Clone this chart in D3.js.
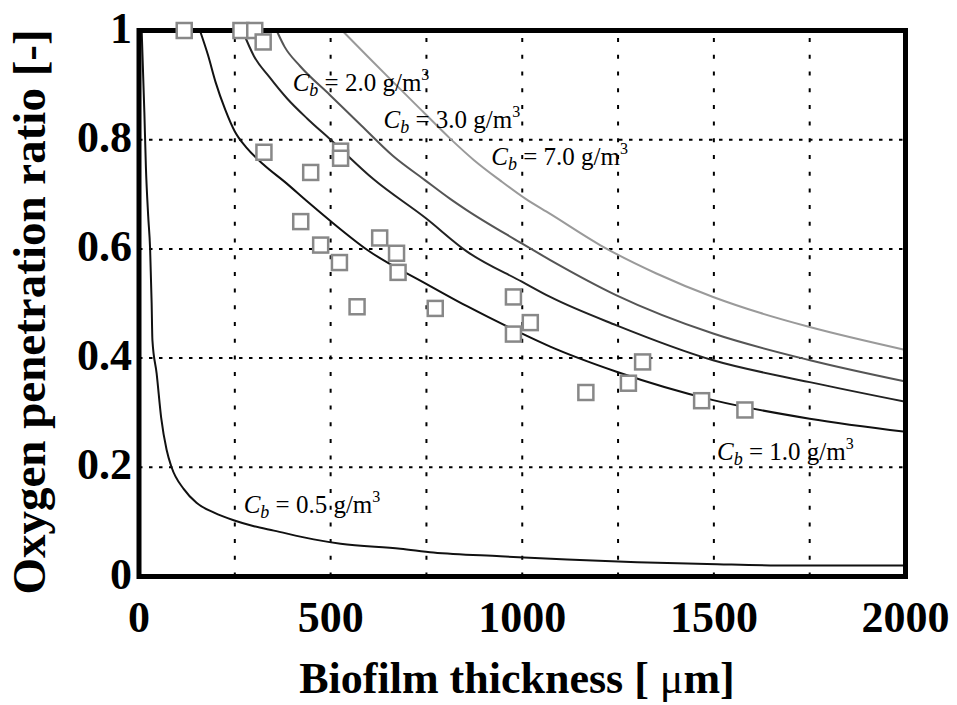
<!DOCTYPE html>
<html>
<head>
<meta charset="utf-8">
<script src="https://cdn.jsdelivr.net/npm/d3@7"></script>
<style>
    body { margin: 0; background: #fff; }
    text { font-family: "Liberation Serif", "Times New Roman", serif; }
</style>
</head>
<body>
<div id="chart"></div>
<script>
// axis ticks
var xTicks = [0, 500, 1000, 1500, 2000];
var xTickLabels = ["0", "500", "1000", "1500", "2000"];
var yTicks = [0, 0.2, 0.4, 0.6, 0.8, 1];
var yTickLabels = ["0", "0.2", "0.4", "0.6", "0.8", "1"];
var xGrid = [250, 500, 750, 1000, 1250, 1500, 1750];
var yGrid = [0.2, 0.4, 0.6, 0.8];

// model curves (thickness in um, ratio)
var cb05X = [7, 14, 18, 24, 29, 33, 35, 46, 58, 72, 85, 117, 150, 196, 247, 300, 352, 456, 526, 682, 768, 943, 1117, 1300, 1482, 1700, 2000];
var cb05Y = [1.0, 0.85, 0.75, 0.66, 0.6, 0.5, 0.433, 0.372, 0.29, 0.232, 0.2, 0.16, 0.135, 0.117, 0.103, 0.092, 0.084, 0.068, 0.06, 0.051, 0.044, 0.037, 0.031, 0.026, 0.023, 0.02, 0.02];
var cb1X = [159, 180, 200, 225, 250, 281, 324, 385, 437, 498, 596, 747, 856, 999, 1073, 1246, 1498, 1750, 2000];
var cb1Y = [1.0, 0.955, 0.905, 0.855, 0.815, 0.785, 0.755, 0.72, 0.688, 0.652, 0.598, 0.537, 0.495, 0.445, 0.421, 0.375, 0.323, 0.289, 0.265];
var cb2X = [270, 300, 340, 387, 440, 500, 613, 747, 856, 999, 1073, 1246, 1498, 1750, 2000];
var cb2Y = [1.0, 0.953, 0.915, 0.875, 0.838, 0.8, 0.727, 0.657, 0.595, 0.54, 0.512, 0.46, 0.396, 0.356, 0.32];
var cb3X = [359, 380, 420, 498, 580, 663, 746, 811, 855, 994, 1072, 1246, 1498, 1751, 2000];
var cb3Y = [1.0, 0.97, 0.935, 0.882, 0.826, 0.77, 0.726, 0.692, 0.671, 0.612, 0.58, 0.515, 0.445, 0.396, 0.357];
var cb7X = [530, 600, 664, 740, 812, 875, 943, 1008, 1073, 1203, 1350, 1498, 1620, 1750, 2000];
var cb7Y = [1.0, 0.95, 0.905, 0.852, 0.802, 0.762, 0.725, 0.692, 0.664, 0.607, 0.555, 0.512, 0.483, 0.457, 0.415];

// measured points
var measX = [118, 266, 302, 324, 326, 448, 422, 474, 523, 526, 526, 569, 628, 672, 676, 773, 977, 977, 1021, 1166, 1277, 1314, 1468, 1581];
var measY = [1.0, 1.0, 1.0, 0.979, 0.777, 0.74, 0.65, 0.607, 0.575, 0.779, 0.766, 0.494, 0.62, 0.592, 0.557, 0.491, 0.512, 0.444, 0.465, 0.337, 0.354, 0.393, 0.322, 0.305];

// curve labels: concentration text and where the label sits (data units)
var cbNames = ["0.5", "1.0", "2.0", "3.0", "7.0"];
var labelX = [273, 1508, 401, 638, 919];
var labelY = [0.117, 0.213, 0.89, 0.822, 0.754];

var series = [
    {xs: cb05X, ys: cb05Y, color: "#111"},
    {xs: cb1X, ys: cb1Y, color: "#111"},
    {xs: cb2X, ys: cb2Y, color: "#222"},
    {xs: cb3X, ys: cb3Y, color: "#555"},
    {xs: cb7X, ys: cb7Y, color: "#9a9a9a"}
];

drawChart();

function drawChart() {
    var width = 957, height = 705;
    var plotLeft = 139, plotRight = 905.5, plotTop = 30.5, plotBottom = 576.5;

    var svg = d3.select("#chart")
        .append("svg")
        .attr("width", width)
        .attr("height", height);

    var x = d3.scaleLinear().domain([0, 2000]).range([plotLeft, plotRight]);
    var y = d3.scaleLinear().domain([0, 1]).range([plotBottom, plotTop]);

    // dotted grid
    svg.append("g")
        .selectAll("line")
        .data(xGrid)
        .enter()
        .append("line")
        .attr("x1", function (d) { return x(d); })
        .attr("x2", function (d) { return x(d); })
        .attr("y1", plotBottom)
        .attr("y2", plotTop)
        .attr("stroke", "#000")
        .attr("stroke-width", 2)
        .attr("stroke-dasharray", "4,12.7");

    svg.append("g")
        .selectAll("line")
        .data(yGrid)
        .enter()
        .append("line")
        .attr("x1", plotLeft)
        .attr("x2", plotRight)
        .attr("y1", function (d) { return y(d); })
        .attr("y2", function (d) { return y(d); })
        .attr("stroke", "#000")
        .attr("stroke-width", 2)
        .attr("stroke-dasharray", "3.5,6.5");

    // curves
    var line = d3.line()
        .x(function (d) { return x(d[0]); })
        .y(function (d) { return y(d[1]); })
        .curve(d3.curveMonotoneX);

    series.forEach(function (s) {
        var pts = s.xs.map(function (v, i) { return [v, s.ys[i]]; });
        svg.append("path")
            .datum(pts)
            .attr("fill", "none")
            .attr("stroke", s.color)
            .attr("stroke-width", 2)
            .attr("d", line);
    });

    // frame
    svg.append("rect")
        .attr("x", plotLeft)
        .attr("y", plotTop)
        .attr("width", plotRight - plotLeft)
        .attr("height", plotBottom - plotTop)
        .attr("fill", "none")
        .attr("stroke", "#000")
        .attr("stroke-width", 5);

    // measured squares
    var sq = 15;
    svg.append("g")
        .selectAll("rect")
        .data(measX)
        .enter()
        .append("rect")
        .attr("x", function (d) { return x(d) - sq / 2; })
        .attr("y", function (d, i) { return y(measY[i]) - sq / 2; })
        .attr("width", sq)
        .attr("height", sq)
        .attr("fill", "#fff")
        .attr("stroke", "#888")
        .attr("stroke-width", 2.5);

    // curve labels  C_b = .. g/m^3
    cbNames.forEach(function (name, i) {
        var t = svg.append("text")
            .attr("x", x(labelX[i]))
            .attr("y", y(labelY[i]))
            .style("font-size", "25px");
        t.append("tspan").style("font-style", "italic").text("C");
        t.append("tspan").style("font-style", "italic").style("font-size", "18px")
            .attr("dy", 5).text("b");
        t.append("tspan").attr("dy", -5).text(" = " + name + " g/m");
        t.append("tspan").style("font-size", "16px").attr("dy", -11).text("3");
    });

    // tick labels
    svg.append("g")
        .selectAll("text")
        .data(yTicks)
        .enter()
        .append("text")
        .attr("x", 132)
        .attr("y", function (d) { return y(d) + 12; })
        .attr("text-anchor", "end")
        .style("font-size", "44px")
        .style("font-weight", "bold")
        .text(function (d, i) { return yTickLabels[i]; });

    svg.append("g")
        .selectAll("text")
        .data(xTicks)
        .enter()
        .append("text")
        .attr("x", function (d) { return x(d); })
        .attr("y", 632)
        .attr("text-anchor", "middle")
        .style("font-size", "44px")
        .style("font-weight", "bold")
        .text(function (d, i) { return xTickLabels[i]; });

    // axis titles
    var xt = svg.append("text")
        .attr("x", 517)
        .attr("y", 693)
        .attr("text-anchor", "middle")
        .style("font-size", "44px")
        .style("font-weight", "bold");
    xt.append("tspan").text("Biofilm thickness [ ");
    xt.append("tspan").style("font-weight", "normal").text("\u03bc");
    xt.append("tspan").text("m]");

    svg.append("text")
        .attr("transform", "translate(45,312) rotate(-90)")
        .attr("text-anchor", "middle")
        .style("font-size", "47px")
        .style("font-weight", "bold")
        .text("Oxygen penetration ratio [-]");
}
</script>
</body>
</html>
